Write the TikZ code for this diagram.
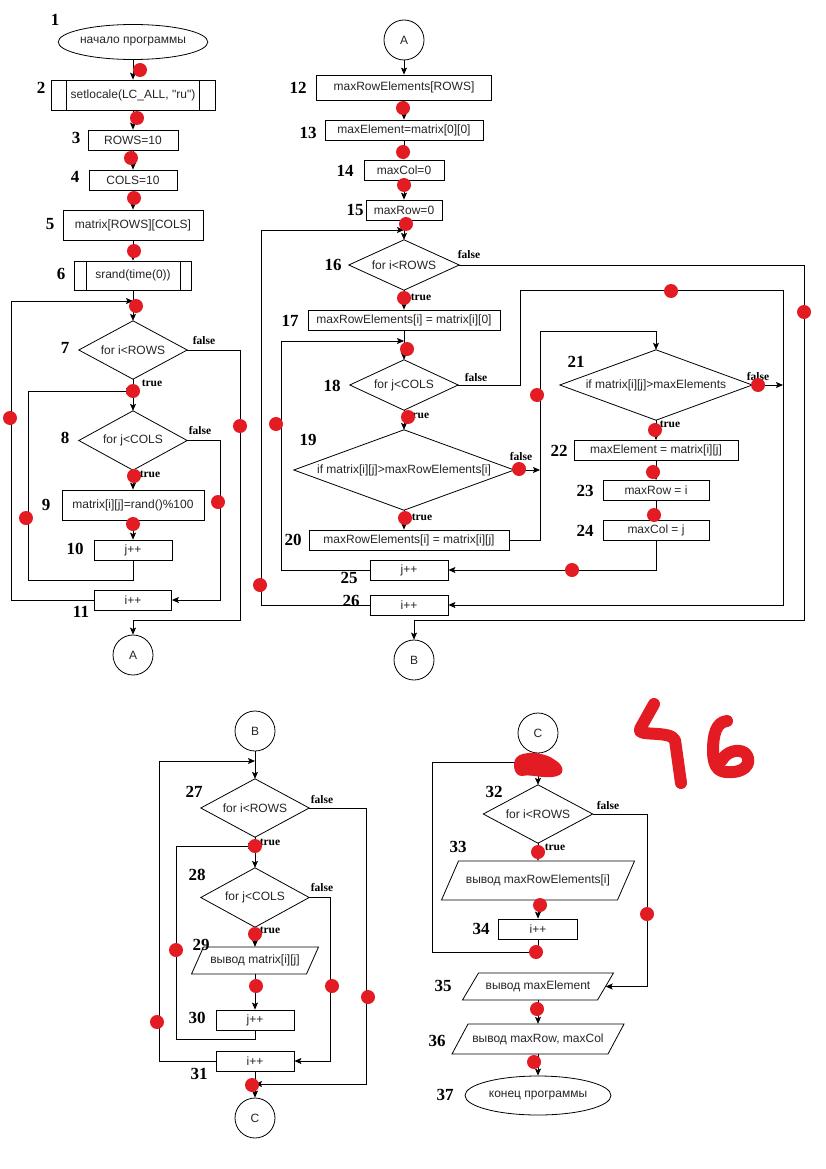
\documentclass[tikz,border=0pt]{standalone}
\usepackage{fontspec}
\setmainfont{Liberation Sans}
\newfontfamily\numfont{Liberation Serif}
\usetikzlibrary{shapes.geometric,arrows.meta}
\definecolor{dotred}{RGB}{227,27,35}
\newcommand\sq{\XeTeXglyph\XeTeXcharglyph"22\relax}
\tikzset{
  ln/.style={line width=0.8pt},
  arr/.style={ln,-{Stealth[length=7pt,width=6pt,inset=1.5pt]}},
  txt/.style={font=\fontsize{12}{14}\selectfont, text=black!85},
  box/.style={txt, draw, line width=0.8pt, rectangle, inner sep=0pt},
  term/.style={txt, draw, line width=0.8pt, ellipse, inner sep=0pt},
  conn/.style={txt, draw, line width=0.8pt, circle, minimum size=40pt, inner sep=0pt},
  shp/.style={txt, rectangle, inner sep=0pt},
  num/.style={font=\numfont\bfseries\fontsize{17}{17}\selectfont},
  tf/.style={font=\numfont\bfseries\fontsize{11.5}{12}\selectfont},
  hand/.style={draw=dotred, line width=12pt, line cap=round, line join=round},
}
\newcommand\dmd[6]{%
  \node[shp, minimum width=#4, minimum height=#5] (#1) at (#2,#3) {#6};
  \draw[ln] (#1.north) -- (#1.east) -- (#1.south) -- (#1.west) -- cycle;}
\newcommand\pgram[7]{%
  \node[shp, minimum width={2*#4}, minimum height={2*#5}] (#1) at (#2,#3) {#7};
  \draw[ln] ({#2-#4+#6/2},{#3-#5}) -- ({#2+#4+#6/2},{#3-#5}) -- ({#2+#4-#6/2},{#3+#5}) -- ({#2-#4-#6/2},{#3+#5}) -- cycle;}
\newcommand\subr[2]{%
  \draw[ln] ([xshift=#2]#1.north west) -- ([xshift=#2]#1.south west);
  \draw[ln] ([xshift=-#2]#1.north east) -- ([xshift=-#2]#1.south east);}
\newcommand\rdot[1]{\fill[dotred] (#1) circle[radius=7pt];}
\begin{document}
\begin{tikzpicture}[x=1pt,y=-1pt]
\useasboundingbox (0,0) rectangle (826,1169);
\fill[white] (0,0) rectangle (826,1169);

% ---------------- section 1 ----------------
\node[term, minimum width=148, minimum height=35] (e1) at (133,42) {начало программы};
\node[box, minimum width=164, minimum height=30] (b2) at (133,95) {setlocale(LC\_ALL, \sq ru\sq)};
\subr{b2}{16pt}
\node[box, minimum width=90, minimum height=20] (b3) at (133,140) {ROWS=10};
\node[box, minimum width=88, minimum height=20] (b4) at (133,180) {COLS=10};
\node[box, minimum width=140, minimum height=30] (b5) at (133,225) {matrix[ROWS][COLS]};
\node[box, minimum width=117, minimum height=29] (b6) at (133,275.5) {srand(time(0))};
\subr{b6}{12pt}
\dmd{d7}{133}{350}{108}{58}{for i<ROWS}
\dmd{d8}{133}{440.5}{108}{59}{for j<COLS}
\node[box, minimum width=142, minimum height=30] (b9) at (133,505) {matrix[i][j]=rand()\%100};
\node[box, minimum width=78, minimum height=20] (b10) at (133,550) {j++};
\node[box, minimum width=77, minimum height=20] (b11) at (133,600) {i++};
\node[conn] (cA1) at (133,655) {A};
\coordinate (j7) at (133,301);
\coordinate (j8) at (133,391);

\draw[arr] (e1.south) -- (b2.north);
\draw[arr] (b2.south) -- (b3.north);
\draw[arr] (b3.south) -- (b4.north);
\draw[arr] (b4.south) -- (b5.north);
\draw[arr] (b5.south) -- (b6.north);
\draw[arr] (b6.south) -- (d7.north);
\draw[arr] (d7.south) -- (d8.north);
\draw[arr] (d8.south) -- (b9.north);
\draw[arr] (b9.south) -- (b10.north);
\draw[arr] (b10.south) -- (133,580) -- (28,580) -- (28,391) -- (j8);
\draw[arr] (b11.west) -- (11,600) -- (11,301) -- (j7);
\draw[arr] (d7.east) -- (240,350) -- (240,620) -- (133,620) -- (cA1.north);
\draw[arr] (d8.east) -- (220,440.5) -- (220,600) -- (b11.east);

\node[tf] (t7f) at (204,341) {false};
\node[tf] (t7t) at (152,383) {true};
\node[tf] (t8f) at (200,431) {false};
\node[tf] (t8t) at (150,474) {true};

\node[num] (n1) at (55,20) {1};
\node[num] (n2) at (41,88) {2};
\node[num] (n3) at (76,138) {3};
\node[num] (n4) at (75,177) {4};
\node[num] (n5) at (50,224) {5};
\node[num] (n6) at (61,274) {6};
\node[num] (n7) at (65,348) {7};
\node[num] (n8) at (65,438) {8};
\node[num] (n9) at (46,505) {9};
\node[num] (n10) at (75,549) {10};
\node[num] (n11) at (81,612) {11};

% ---------------- section 2 ----------------
\node[conn] (cA2) at (404,40) {A};
\node[box, minimum width=175, minimum height=25] (b12) at (404,87.5) {maxRowElements[ROWS]};
\node[box, minimum width=158, minimum height=20] (b13) at (404,130) {maxElement=matrix[0][0]};
\node[box, minimum width=80, minimum height=20] (b14) at (404,170) {maxCol=0};
\node[box, minimum width=76, minimum height=20] (b15) at (404,210) {maxRow=0};
\dmd{d16}{404}{265}{110}{50}{for i<ROWS}
\node[box, minimum width=192, minimum height=20] (b17) at (404,320) {maxRowElements[i] = matrix[i][0]};
\dmd{d18}{404}{385}{108}{50}{for j<COLS}
\dmd{d19}{404}{470}{220}{80}{if matrix[i][j]>maxRowElements[i]}
\node[box, minimum width=200, minimum height=20] (b20) at (409,540) {maxRowElements[i] = matrix[i][j]};
\dmd{d21}{656}{385}{192}{70}{if matrix[i][j]>maxElements}
\node[box, minimum width=164, minimum height=20] (b22) at (656,450.5) {maxElement = matrix[i][j]};
\node[box, minimum width=106, minimum height=20] (b23) at (656,490.5) {maxRow = i};
\node[box, minimum width=106, minimum height=20] (b24) at (656,530) {maxCol = j};
\node[box, minimum width=78, minimum height=20] (b25) at (409,570) {j++};
\node[box, minimum width=78, minimum height=20] (b26) at (409,605) {i++};
\node[conn] (cB1) at (414,660) {B};
\coordinate (j16) at (404,230);
\coordinate (j18) at (404,341);
\coordinate (j19) at (540,470);
\coordinate (j21) at (783,385);

\draw[arr] (cA2.south) -- (b12.north);
\draw[arr] (b12.south) -- (b13.north);
\draw[arr] (b13.south) -- (b14.north);
\draw[arr] (b14.south) -- (b15.north);
\draw[arr] (b15.south) -- (d16.north);
\draw[arr] (d16.south) -- (b17.north);
\draw[arr] (b17.south) -- (d18.north);
\draw[arr] (d18.south) -- (d19.north);
\draw[arr] (d19.south) -- (d19.south |- b20.north);
\draw[arr] (b26.west) -- (261,605) -- (261,230) -- (j16);
\draw[arr] (b25.west) -- (281,570) -- (281,341) -- (j18);
\draw[arr] (d16.east) -- (804,265) -- (804,620) -- (414,620) -- (cB1.north);
\draw[arr] (d18.east) -- (520,385) -- (520,290) -- (783,290) -- (783,605) -- (b26.east);
\draw[arr] (d19.east) -- (j19);
\draw[arr] (b20.east) -- (540,540) -- (540,331) -- (656,331) -- (d21.north);
\draw[arr] (d21.east) -- (j21);
\draw[arr] (d21.south) -- (b22.north);
\draw[arr] (b22.south) -- (b23.north);
\draw[arr] (b23.south) -- (b24.north);
\draw[arr] (b24.south) -- (656,570) -- (b25.east);

\node[tf] (t16f) at (469,255) {false};
\node[tf] (t16t) at (421,297) {true};
\node[tf] (t18f) at (476,378) {false};
\node[tf] (t18t) at (419,415) {true};
\node[tf] (t19f) at (521,457) {false};
\node[tf] (t19t) at (422,517) {true};
\node[tf] (t21f) at (758,377) {false};
\node[tf] (t21t) at (670,424) {true};

\node[num] (n12) at (298,88) {12};
\node[num] (n13) at (308,133) {13};
\node[num] (n14) at (345,171) {14};
\node[num] (n15) at (355,210) {15};
\node[num] (n16) at (333,265) {16};
\node[num] (n17) at (290,321) {17};
\node[num] (n18) at (332,386) {18};
\node[num] (n19) at (308,440) {19};
\node[num] (n20) at (293,540) {20};
\node[num] (n21) at (576,362) {21};
\node[num] (n22) at (559,451) {22};
\node[num] (n23) at (585,491) {23};
\node[num] (n24) at (585,531) {24};
\node[num] (n25) at (349,578) {25};
\node[num] (n26) at (351,601) {26};

% ---------------- section 3 ----------------
\node[conn] (cB2) at (255,731) {B};
\dmd{d27}{255}{808}{108}{58}{for i<ROWS}
\dmd{d28}{255}{897.5}{108}{59}{for j<COLS}
\pgram{p29}{255}{960.5}{57.5}{13.5}{12}{вывод matrix[i][j]}
\node[box, minimum width=78, minimum height=20] (b30) at (255,1020) {j++};
\node[box, minimum width=78, minimum height=20] (b31) at (255,1061) {i++};
\node[conn] (cC1) at (255,1118) {C};
\coordinate (j27) at (255,761);
\coordinate (j28) at (255,846);
\coordinate (j31) at (255,1084);

\draw[arr] (cB2.south) -- (d27.north);
\draw[arr] (d27.south) -- (d28.north);
\draw[arr] (d28.south) -- (p29.north);
\draw[arr] (p29.south) -- (b30.north);
\draw[arr] (b31.south) -- (cC1.north);
\draw[arr] (b30.south) -- (255,1039) -- (176,1039) -- (176,846) -- (j28);
\draw[arr] (b31.west) -- (159,1061) -- (159,761) -- (j27);
\draw[arr] (d27.east) -- (366,808) -- (366,1084) -- (j31);
\draw[arr] (d28.east) -- (330,897.5) -- (330,1061) -- (b31.east);

\node[tf] (t27f) at (322,799) {false};
\node[tf] (t27t) at (270,842) {true};
\node[tf] (t28f) at (322,887) {false};
\node[tf] (t28t) at (270,930) {true};

\node[num] (n27) at (194,792) {27};
\node[num] (n28) at (197,875) {28};
\node[num] (n29) at (201,945) {29};
\node[num] (n30) at (197,1018) {30};
\node[num] (n31) at (199,1074) {31};

% ---------------- section 4 ----------------
\node[conn] (cC2) at (538,733) {C};
\dmd{d32}{538}{814}{109}{58}{for i<ROWS}
\pgram{p33}{538}{880.5}{88}{19.5}{17}{вывод maxRowElements[i]}
\node[box, minimum width=79, minimum height=20] (b34) at (538,929) {i++};
\pgram{p35}{538}{986.5}{67.5}{13.5}{16}{вывод maxElement}
\pgram{p36}{538}{1039}{78}{15}{16}{вывод maxRow, maxCol}
\node[term, minimum width=146, minimum height=39] (e37) at (538,1095.5) {конец программы};
\coordinate (j32) at (538,762);

\draw[arr] (cC2.south) -- (d32.north);
\draw[arr] (d32.south) -- (p33.north);
\draw[arr] (p33.south) -- (b34.north);
\draw[arr] (b34.south) -- (538,952) -- (432,952) -- (432,762) -- (j32);
\draw[arr] (d32.east) -- (647,814) -- (647,986.5) -- (p35.east);
\draw[arr] (p35.south) -- (p36.north);
\draw[arr] (p36.south) -- (e37.north);

\node[tf] (t32f) at (608,805) {false};
\node[tf] (t32t) at (555,847) {true};

\node[num] (n32) at (494,792) {32};
\node[num] (n33) at (458,847) {33};
\node[num] (n34) at (481,929) {34};
\node[num] (n35) at (443,986) {35};
\node[num] (n36) at (437,1041) {36};
\node[num] (n37) at (445,1095) {37};

% ---------------- red marks ----------------
\foreach \p in {{140,70},{137,118},{131,158},{134,198},{134,251},{136,306},
  {240,426},{133,391},{218,502},{134,476},{133,524},{26,518},{10,418},
  {403,108},{403,152},{404,185},{406,224},{404,298},{407,349},{408,417},
  {519,469},{405,518},{537,395},{276,424},{260,585},{671,291},{804,312},
  {758,385},{655,430},{653,472},{654,515},{572,570},
  {255,846},{255,934},{256,986},{332,986},{368,997},{176,950},{157,1022},{252,1085},
  {538,852},{540,905},{536,952},{647,914},{537,1009},{534,1062}}
  {\rdot{\p}}
\fill[dotred] (516,758) .. controls (522,750) and (545,752) .. (555,760)
  .. controls (565,766) and (566,776) .. (552,777)
  .. controls (540,778) and (530,774) .. (522,776)
  .. controls (514,776) and (512,764) .. (516,758) -- cycle;
\draw[hand] (654,704) -- (640,729) .. controls (636,737) and (670,730) .. (675,740) -- (681,783);
\draw[hand] (727,721) .. controls (716,722) and (713,735) .. (713,750)
  .. controls (713,770) and (720,773) .. (733,772)
  .. controls (748,771) and (752,760) .. (745,753)
  .. controls (738,748) and (726,752) .. (722,760);
\end{tikzpicture}
\end{document}
